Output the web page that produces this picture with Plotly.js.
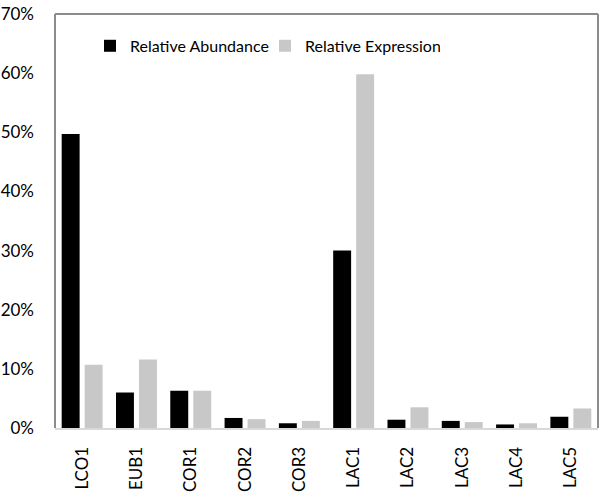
<!DOCTYPE html>
<html>
<head>
<meta charset="utf-8">
<script src="https://cdn.plot.ly/plotly-3.0.1.min.js"></script>
<style>html,body{margin:0;padding:0;background:#fff;}#chart{width:600px;height:495px;}</style>
</head>
<body>
<div id="chart"></div>
<script>
var categories = ["LCO1","EUB1","COR1","COR2","COR3","LAC1","LAC2","LAC3","LAC4","LAC5"];
var abundance  = [0.497, 0.060, 0.063, 0.017, 0.008, 0.300, 0.014, 0.012, 0.006, 0.019];
var expression = [0.107, 0.116, 0.063, 0.015, 0.012, 0.598, 0.035, 0.010, 0.008, 0.033];
var seriesNames = ["Relative Abundance", "Relative Expression"];

var fontFam = "Lato, 'Open Sans', sans-serif";
var traces = [
  {type:"bar", name:seriesNames[0], x:categories, y:abundance, marker:{color:"#000000"}},
  {type:"bar", name:seriesNames[1], x:categories, y:expression, marker:{color:"#c8c8c8"}}
];
var layout = {
  width:600, height:495,
  margin:{l:55, r:2, t:14, b:67, pad:0},
  paper_bgcolor:"#ffffff", plot_bgcolor:"#ffffff",
  font:{family:fontFam, size:16, color:"#000"},
  barmode:"group", bargap:0.153, bargroupgap:0.22,
  showlegend:true,
  legend:{orientation:"h", x:0.0645, xanchor:"left", y:0.923, yanchor:"middle",
          font:{family:fontFam, size:16, color:"#000"}, itemwidth:30, tracegroupgap:0,
          entrywidth:130, entrywidthmode:"pixels",
          bgcolor:"rgba(0,0,0,0)"},
  xaxis:{type:"category", tickangle:-90, showgrid:false, zeroline:false,
         showline:true, linecolor:"#d9d9d9", linewidth:2,
         ticks:"outside", ticklen:10, tickcolor:"rgba(0,0,0,0)",
         tickfont:{family:fontFam, size:17, color:"#000"}},
  yaxis:{range:[0,0.7], dtick:0.1, tickformat:".0%", showgrid:false, zeroline:false,
         showline:false, ticks:"", ticklabelstandoff:20,
         tickfont:{family:fontFam, size:17, color:"#000"}},
  shapes:[
    {type:"line", xref:"paper", yref:"paper", x0:0, x1:0, y0:0, y1:1, line:{color:"#8c8c8c", width:2}},
    {type:"line", xref:"paper", yref:"paper", x0:0, x1:1, y0:1, y1:1, line:{color:"#8c8c8c", width:2}},
    {type:"line", xref:"paper", yref:"paper", x0:1, x1:1, y0:0, y1:1, line:{color:"#8c8c8c", width:2}}
  ]
};
Plotly.newPlot("chart", traces, layout, {displayModeBar:false, staticPlot:true});
</script>
</body>
</html>
